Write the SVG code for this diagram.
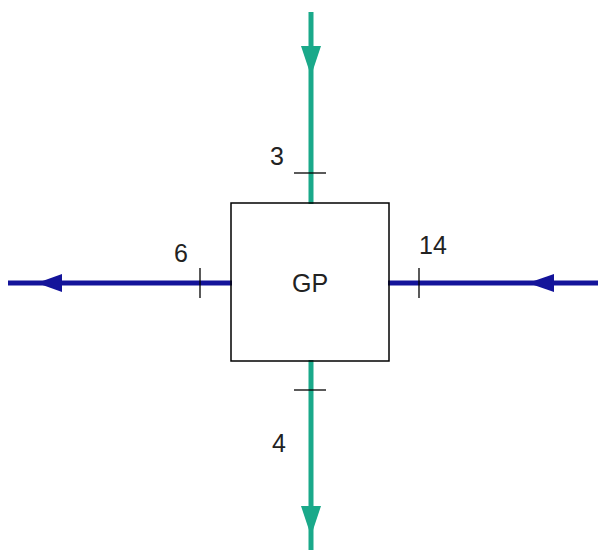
<svg xmlns="http://www.w3.org/2000/svg" width="598" height="550" viewBox="0 0 598 550">
<style>
.teal{stroke:#1aa98a;stroke-width:5;fill:none}
.blue{stroke:#14149a;stroke-width:5;fill:none}
.tick{stroke:#000;stroke-width:1.3}
.lbl{font-family:"Liberation Sans",Arial,sans-serif;font-size:25px;fill:#222}
</style>
<rect width="598" height="550" fill="#fff"/>
<g id="connectors">
<line class="teal" x1="311" y1="12" x2="311" y2="204"/>
<polygon points="301,46 321,46 311,76" fill="#1aa98a"/>
<line class="tick" x1="294" y1="173" x2="326" y2="173"/>
<text class="lbl" x="270" y="165">3</text>
<line class="teal" x1="311" y1="360" x2="311" y2="550"/>
<polygon points="301,506 321,506 311,536" fill="#1aa98a"/>
<line class="tick" x1="294" y1="390" x2="326" y2="390"/>
<text class="lbl" x="272" y="452">4</text>
<line class="blue" x1="8" y1="283" x2="232" y2="283"/>
<polygon points="37,283 62,274 62,292" fill="#14149a"/>
<line class="tick" x1="200" y1="268" x2="200" y2="298"/>
<text class="lbl" x="174" y="262">6</text>
<line class="blue" x1="388" y1="283" x2="598" y2="283"/>
<polygon points="528,283 554,274 554,292" fill="#14149a"/>
<line class="tick" x1="419" y1="268" x2="419" y2="298"/>
<text class="lbl" x="419" y="254">14</text>
</g>
<g id="GP">
<rect x="231" y="203" width="158" height="158" fill="none" stroke="#000" stroke-width="1.5"/>
<text class="lbl" x="310" y="292" text-anchor="middle">GP</text>
</g>
</svg>
